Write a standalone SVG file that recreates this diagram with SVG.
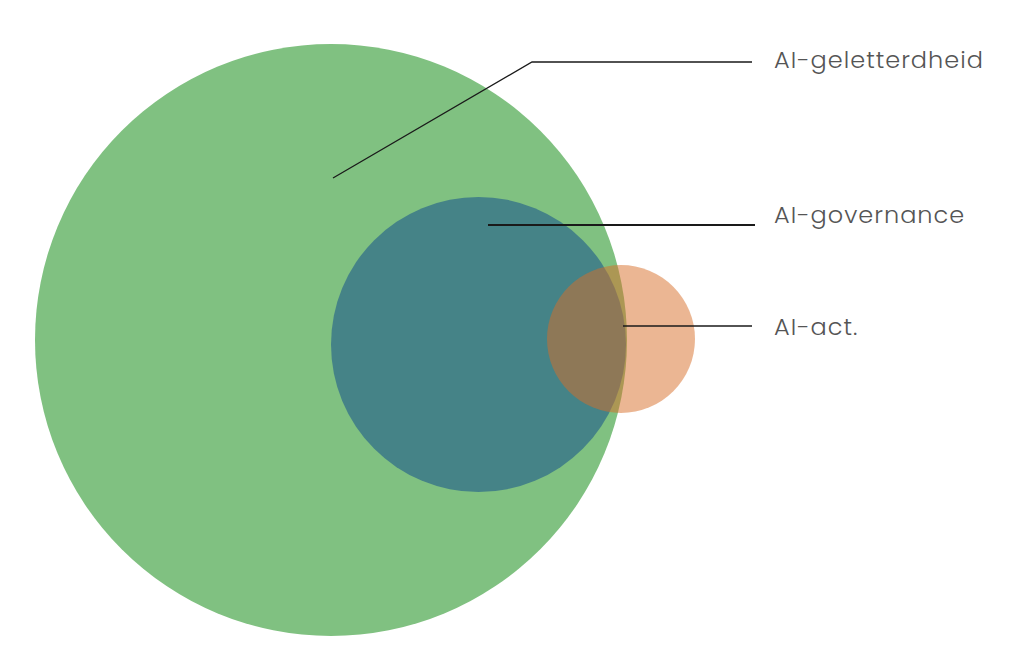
<svg xmlns="http://www.w3.org/2000/svg" width="1024" height="655" viewBox="0 0 1024 655">
<style>
.lbl{font-family:"Poppins","Inter","Open Sans","Liberation Sans",sans-serif;font-size:24px;font-weight:300;fill:#555555;letter-spacing:1px}
.ln{fill:none;stroke:#1a1a1a;stroke-width:1.3}
</style>
<rect width="1024" height="655" fill="#ffffff"/>
<g id="node-geletterdheid"><circle cx="331" cy="340" r="296" fill="#80c181"/></g>
<g id="node-governance"><circle cx="478.5" cy="344.5" r="147.5" fill="#458387"/></g>
<g id="node-act"><circle cx="621" cy="339" r="74" fill="#d86e27" fill-opacity="0.5"/></g>
<g id="connectors">
<polyline class="ln" points="333,178 532,62 752,62"/>
<line class="ln" x1="488" y1="225" x2="755" y2="225" style="stroke-width:2.2"/>
<line class="ln" x1="623" y1="326" x2="752" y2="326"/>
</g>
<g id="labels">
<text class="lbl" x="774" y="68">AI-geletterdheid</text>
<text class="lbl" x="774" y="223">AI-governance</text>
<text class="lbl" x="774" y="335">AI-act.</text>
</g>
</svg>
